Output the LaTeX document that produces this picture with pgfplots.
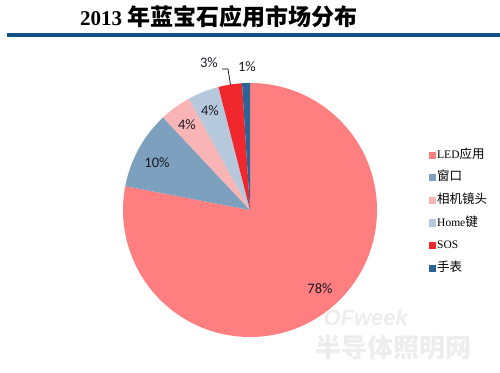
\documentclass[border=0pt]{standalone}
\usepackage{fontspec}
\usepackage{pgfplots}
\usepackage{pgfplotstable}
\pgfplotsset{compat=1.18}
\setmainfont{Liberation Serif}
\newfontfamily\cjk{Noto Sans CJK SC}
\newfontfamily\lab{Carlito}
\newfontfamily\wm{Liberation Sans}
\definecolor{slice0}{RGB}{255,126,128}
\definecolor{slice1}{RGB}{124,160,189}
\definecolor{slice2}{RGB}{249,180,182}
\definecolor{slice3}{RGB}{182,200,220}
\definecolor{slice4}{RGB}{240,40,46}
\definecolor{slice5}{RGB}{43,100,150}
\definecolor{cBar}{RGB}{16,80,130}
\definecolor{labc}{RGB}{25,25,35}
\newcommand\zh[1]{{\cjk\fontsize{12.5}{14}\selectfont #1}}
\pgfplotstableread{
idx value
0 78
1 10
2 4
3 4
4 3
5 1
}\piedata
\pgfplotsset{sqlegend/.style={legend image code/.code={\fill[##1, draw=none] (0pt,-3.5pt) rectangle (7pt,3.5pt);}}}
\begin{document}
\begin{tikzpicture}
\xdef\cum{0}
\foreach \i in {0,...,5}{%
  \pgfplotstablegetelem{\i}{value}\of\piedata
  \let\v\pgfplotsretval
  \pgfmathsetmacro\a{90-3.6*\cum}%
  \pgfmathsetmacro\newcum{\cum+\v}%
  \pgfmathsetmacro\b{90-3.6*\newcum}%
  \expandafter\xdef\csname pieA\i\endcsname{\a}%
  \expandafter\xdef\csname pieB\i\endcsname{\b}%
  \xdef\cum{\newcum}%
}
\begin{axis}[scale only axis, width=500pt, height=372pt,
  xmin=0, xmax=500, ymin=0, ymax=372, hide axis, clip=false,
  legend cell align=left,
  legend style={draw=none, fill=none, at={(axis cs:429,224)}, anchor=north west,
    inner sep=0pt, row sep=8.6pt, column sep=0pt,
    nodes={inner sep=1pt, text height=9pt, text depth=3pt},
    font=\fontsize{11.5}{13}\selectfont}]
\path (axis cs:0,0) rectangle (axis cs:500,372);
% watermark
\node[text=black!7, font=\wm\bfseries\itshape\fontsize{22}{24}\selectfont, anchor=west] at (axis cs:320,54) {OFweek};
\node[text=black!7, font=\cjk\bfseries\fontsize{26}{28}\selectfont, anchor=west] at (axis cs:312,24) {半导体照明网};
% pie
\pgfplotsinvokeforeach{0,...,5}{
  \fill[slice#1] (axis cs:250,162) -- ++(\csname pieA#1\endcsname:127pt)
    arc[start angle=\csname pieA#1\endcsname, end angle=\csname pieB#1\endcsname, radius=127pt] -- cycle;
}
\addlegendimage{sqlegend, fill=slice0}
\addlegendimage{sqlegend, fill=slice1}
\addlegendimage{sqlegend, fill=slice2}
\addlegendimage{sqlegend, fill=slice3}
\addlegendimage{sqlegend, fill=slice4}
\addlegendimage{sqlegend, fill=slice5}
\legend{LED\zh{应用}, \zh{窗口}, \zh{相机镜头}, Home\zh{键}, SOS, \zh{手表}}
% labels
\begin{scope}[every node/.style={font=\lab\fontsize{14.5}{16}\selectfont, text=labc}]
\node at (axis cs:320,83) {78\%};
\node at (axis cs:157,209) {10\%};
\node at (axis cs:187,247) {4\%};
\node at (axis cs:210,261) {4\%};
\node at (axis cs:209,309) {3\%};
\node at (axis cs:247,305) {1\%};
\end{scope}
\draw[black, line width=0.7pt] (axis cs:222,303) -- (axis cs:228,303) -- (axis cs:230.5,287);
% title
\fill[cBar] (axis cs:7,335) rectangle (axis cs:500,339);
\node[anchor=west, inner sep=0pt] at (axis cs:80,355.5) {\fontsize{21}{24}\selectfont\bfseries 2013 {\cjk\fontsize{23}{26}\selectfont\bfseries 年蓝宝石应用市场分布}};
\end{axis}
\end{tikzpicture}
\end{document}
